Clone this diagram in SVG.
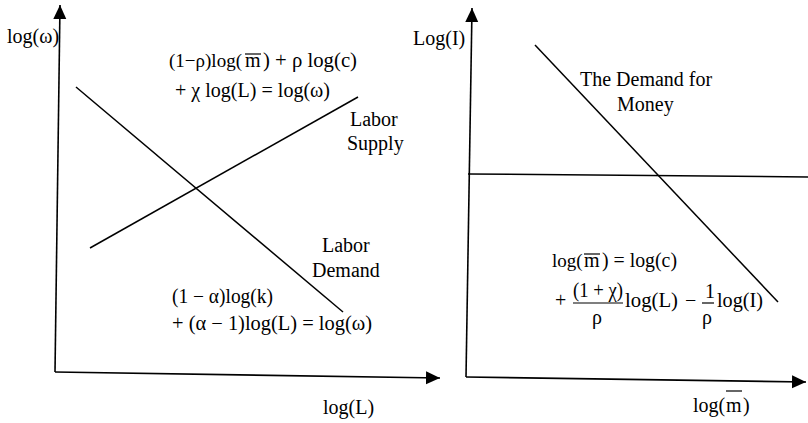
<svg xmlns="http://www.w3.org/2000/svg" width="808" height="423" viewBox="0 0 808 423">
<style>
.ax{fill:none;stroke:#000;stroke-width:1.6;marker-end:url(#ah)}
.ln{fill:none;stroke:#000;stroke-width:1.5}
text{font-family:"Liberation Serif","Times New Roman",serif;font-size:20px;fill:#000}
.bar{stroke:#000;stroke-width:1.2}
</style>
<defs>
<marker id="ah" markerUnits="userSpaceOnUse" markerWidth="16" markerHeight="14" refX="14" refY="6.5" orient="auto">
<path d="M0,0 L14,6.5 L0,13 z" fill="#000"/>
</marker>
</defs>
<rect width="808" height="423" fill="#fff"/>
<g id="connectors">
<path class="ax" d="M55,372 L60,5"/>
<path class="ax" d="M55,372 L440,378"/>
<path class="ax" d="M466,377 L472,8"/>
<path class="ax" d="M466,377 L806,382"/>
<path id="labor-demand-line" class="ln" d="M76,87 L343,312"/>
<path id="labor-supply-line" class="ln" d="M90,248 L358,97"/>
<path id="money-demand-line" class="ln" d="M535,45 L778,302"/>
<path id="interest-line" class="ln" d="M468,174 L808,177"/>
</g>
<g id="left-axis-labels">
<text x="7" y="43">log(ω)</text>
<text x="323" y="414">log(L)</text>
</g>
<g id="labor-supply-eq">
<text x="169" y="67" style="font-size:19px">(1−ρ)log(</text>
<text x="245" y="67">m</text>
<line class="bar" x1="245" y1="54" x2="261" y2="54"/>
<text x="263" y="67" textLength="94" lengthAdjust="spacingAndGlyphs">) + ρ log(c)</text>
<text x="175" y="97" textLength="155" lengthAdjust="spacingAndGlyphs">+ χ log(L) = log(ω)</text>
</g>
<g id="labor-supply-label">
<text x="350" y="126">Labor</text>
<text x="347" y="150">Supply</text>
</g>
<g id="labor-demand-label">
<text x="322" y="252">Labor</text>
<text x="312" y="277">Demand</text>
</g>
<g id="labor-demand-eq">
<text x="172" y="303" textLength="101" lengthAdjust="spacingAndGlyphs">(1 − α)log(k)</text>
<text x="172" y="330" textLength="200" lengthAdjust="spacingAndGlyphs">+ (α − 1)log(L) =  log(ω)</text>
</g>
<g id="right-axis-labels">
<text x="413" y="45">Log(I)</text>
<text x="693" y="412">log(</text>
<text x="726" y="412">m</text>
<line class="bar" x1="726" y1="391" x2="742" y2="391"/>
<text x="743" y="412">)</text>
</g>
<g id="money-demand-label">
<text x="580" y="86">The Demand for</text>
<text x="617" y="111">Money</text>
</g>
<g id="money-demand-eq">
<text x="552" y="267" style="font-size:19px">log(</text>
<text x="584" y="267">m</text>
<line class="bar" x1="584" y1="254" x2="600" y2="254"/>
<text x="602" y="267" textLength="75" lengthAdjust="spacingAndGlyphs">) = log(c)</text>
<text x="555" y="307">+</text>
<text x="573" y="297" textLength="50" lengthAdjust="spacingAndGlyphs">(1 + χ)</text>
<line class="bar" x1="573" y1="303" x2="623" y2="303"/>
<text x="592" y="324">ρ</text>
<text x="625" y="307" textLength="53" lengthAdjust="spacingAndGlyphs">log(L)</text>
<text x="685" y="307">−</text>
<text x="705" y="298">1</text>
<line class="bar" x1="702" y1="303" x2="714" y2="303"/>
<text x="702" y="324">ρ</text>
<text x="717" y="307" textLength="46" lengthAdjust="spacingAndGlyphs">log(I)</text>
</g>
</svg>
